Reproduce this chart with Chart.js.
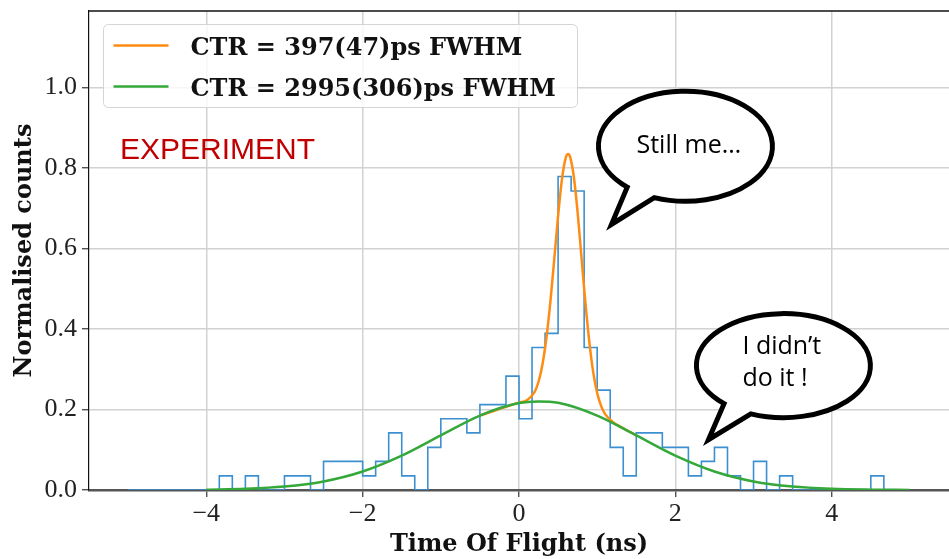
<!DOCTYPE html>
<html>
<head>
<meta charset="utf-8">
<script src="https://cdn.jsdelivr.net/npm/chart.js@4.4.1/dist/chart.umd.min.js"></script>
<style>
html, body { margin: 0; padding: 0; background: #fff; overflow: hidden; }
</style>
</head>
<body>
<canvas id="grafico" width="949" height="559"></canvas>
<script>
// histogram: 60 bins from -5 to 5 ns, normalised counts
const binStart = -5;
const binWidth = 1 / 6;
const histValues = [
  0, 0, 0, 0, 0, 0, 0, 0.035, 0, 0.035,
  0, 0, 0.035, 0.035, 0, 0.071, 0.071, 0.071, 0.035, 0.071,
  0.142, 0.035, 0, 0.106, 0.177, 0.177, 0.142, 0.212, 0.212, 0.283,
  0.177, 0.354, 0.389, 0.779, 0.743, 0.354, 0.248, 0.106, 0.035, 0.142,
  0.142, 0.106, 0.106, 0.035, 0.071, 0.106, 0.035, 0, 0.071, 0,
  0.035, 0, 0, 0, 0, 0, 0, 0.035, 0, 0
];

// broad fit (green)
const broadX = [-4, -3.5, -3, -2.5, -2, -1.5, -1, -0.5, 0, 0.25, 0.5, 1, 1.5, 2, 2.5, 3, 3.5, 4, 4.5, 5];
const broadY = [0.0008, 0.0028, 0.0084, 0.0213, 0.046, 0.0854, 0.1357, 0.185, 0.216, 0.22, 0.2166, 0.185, 0.1357, 0.0854, 0.046, 0.0213, 0.0084, 0.0028, 0.0008, 0.0002];

// narrow peak fit (orange)
const narrowX = [-0.5, 0, 0.1, 0.2, 0.25, 0.3, 0.35, 0.4, 0.45, 0.5, 0.55, 0.6, 0.63, 0.65, 0.7, 0.75, 0.8, 0.85, 0.9, 0.95, 1.0, 1.05, 1.1, 1.2, 1.3, 1.5];
const narrowY = [0.185, 0.217, 0.223, 0.244, 0.269, 0.312, 0.377, 0.465, 0.571, 0.681, 0.773, 0.827, 0.835, 0.830, 0.780, 0.689, 0.576, 0.464, 0.367, 0.292, 0.241, 0.209, 0.189, 0.169, 0.157, 0.136];

const xTicks = [-4, -2, 0, 2, 4];
const yTicks = [0, 0.2, 0.4, 0.6, 0.8, 1.0];
const legendLabels = ['CTR = 397(47)ps FWHM', 'CTR = 2995(306)ps FWHM'];

const orange = '#ff8c12';
const green = '#35a83a';
const blue = '#3d90cf';

let histPts = [];
for (let i = 0; i < histValues.length; i++) {
  histPts.push({ x: binStart + i * binWidth, y: histValues[i] });
}
histPts.push({ x: binStart + histValues.length * binWidth, y: 0 });

const broadPts = broadX.map((x, i) => ({ x: x, y: broadY[i] }));
const narrowPts = narrowX.map((x, i) => ({ x: x, y: narrowY[i] }));

// speech bubbles, anchored in data units
const bubbles = [
  { cx: 2.129, cy: 0.854, tx: 1.183, ty: 0.66, rx: 87, ry: 55, gap: [111, 132],
    lines: ['Still me\u2026'], textDx: -49, textDy: [7] },
  { cx: 3.382, cy: 0.309, tx: 2.423, ty: 0.125, rx: 87, ry: 52, gap: [112, 133],
    lines: ['I didn\u2019t', 'do it !'], textDx: -41, textDy: [-12, 20] }
];

const extras = {
  id: 'extras',
  afterDraw(chart) {
    const ctx = chart.ctx;
    const a = chart.chartArea;
    const xs = chart.scales.x;
    const ys = chart.scales.y;
    ctx.save();

    // top spine
    ctx.strokeStyle = '#111';
    ctx.lineWidth = 1.5;
    ctx.beginPath();
    ctx.moveTo(a.left, a.top);
    ctx.lineTo(a.right, a.top);
    ctx.stroke();

    // legend
    const lx = a.left + 14.5, ly = a.top + 13.5;
    ctx.beginPath();
    ctx.roundRect(lx, ly, 474, 83, 5);
    ctx.fillStyle = 'rgba(255,255,255,0.8)';
    ctx.fill();
    ctx.strokeStyle = '#d4d4d4';
    ctx.lineWidth = 1;
    ctx.stroke();
    const cols = [orange, green];
    ctx.font = 'bold 24px "DejaVu Serif"';
    ctx.textBaseline = 'alphabetic';
    ctx.textAlign = 'left';
    for (let i = 0; i < legendLabels.length; i++) {
      const yy = ly + 21 + i * 41;
      ctx.strokeStyle = cols[i];
      ctx.lineWidth = 2.5;
      ctx.beginPath();
      ctx.moveTo(lx + 10, yy);
      ctx.lineTo(lx + 65, yy);
      ctx.stroke();
      ctx.fillStyle = '#111';
      ctx.fillText(legendLabels[i], lx + 87, yy + 9);
    }

    // EXPERIMENT label
    ctx.font = '30px "Liberation Sans"';
    ctx.fillStyle = '#c00000';
    ctx.fillText('EXPERIMENT', 120, 159);

    // bubbles
    bubbles.forEach(b => {
      const cx = xs.getPixelForValue(b.cx);
      const cy = ys.getPixelForValue(b.cy);
      const tx = xs.getPixelForValue(b.tx);
      const ty = ys.getPixelForValue(b.ty);
      const a1 = b.gap[1] * Math.PI / 180;
      const a2 = (b.gap[0] + 360) * Math.PI / 180;
      ctx.beginPath();
      ctx.ellipse(cx, cy, b.rx, b.ry, 0, a1, a2, false);
      ctx.lineTo(tx, ty);
      ctx.closePath();
      ctx.fillStyle = '#fff';
      ctx.fill();
      ctx.strokeStyle = '#000';
      ctx.lineWidth = 5;
      ctx.lineJoin = 'miter';
      ctx.stroke();
      ctx.fillStyle = '#000';
      ctx.font = '25px "Comic Sans MS", "Open Sans"';
      b.lines.forEach((t, k) => {
        ctx.fillText(t, cx + b.textDx, cy + b.textDy[k]);
      });
    });

    ctx.restore();
  }
};

const tickFont = { family: 'Liberation Serif', size: 26 };
const titleFont = { family: 'DejaVu Serif', size: 24, weight: 'bold' };

const config = {
  type: 'line',
  data: {
    datasets: [
      {
        label: 'hist',
        data: histPts,
        stepped: 'before',
        borderColor: blue,
        borderWidth: 1.6,
        pointRadius: 0,
        fill: false,
        order: 3
      },
      {
        label: legendLabels[0],
        data: narrowPts,
        borderColor: orange,
        borderWidth: 2.5,
        pointRadius: 0,
        cubicInterpolationMode: 'monotone',
        fill: false,
        order: 2
      },
      {
        label: legendLabels[1],
        data: broadPts,
        borderColor: green,
        borderWidth: 2.5,
        pointRadius: 0,
        cubicInterpolationMode: 'monotone',
        fill: false,
        order: 1
      }
    ]
  },
  options: {
    responsive: false,
    animation: false,
    devicePixelRatio: 1,
    layout: { padding: { top: 11, left: 0, right: 0, bottom: 0 } },
    plugins: {
      legend: { display: false },
      tooltip: { enabled: false }
    },
    scales: {
      x: {
        type: 'linear',
        min: -5.5,
        max: 5.5,
        afterBuildTicks: s => { s.ticks = xTicks.map(v => ({ value: v })); },
        afterFit: s => { s.height = 69; s.paddingLeft = 0; s.paddingRight = 0; },
        ticks: {
          callback: v => (v < 0 ? '\u2212' + Math.abs(v) : String(v)),
          font: tickFont,
          color: '#222',
          padding: 2,
          maxRotation: 0,
          autoSkip: false
        },
        grid: { color: '#d2d2d2', lineWidth: 1.5, tickLength: 7, tickColor: '#333', tickWidth: 1.2 },
        border: { display: true, color: '#555', width: 2.5 },
        title: { display: true, text: 'Time Of Flight (ns)', font: titleFont, color: '#111', padding: { top: 0, bottom: 0 } }
      },
      y: {
        type: 'linear',
        min: 0,
        max: 1.19,
        afterBuildTicks: s => { s.ticks = yTicks.map(v => ({ value: v })); },
        afterFit: s => { s.width = 89; s.paddingTop = 0; s.paddingBottom = 0; },
        ticks: {
          callback: v => v.toFixed(1),
          font: tickFont,
          color: '#222',
          padding: 5
        },
        grid: { color: '#d2d2d2', lineWidth: 1.5, tickLength: 7, tickColor: '#333', tickWidth: 1.2 },
        border: { display: true, color: '#111', width: 1.2 },
        title: { display: true, text: 'Normalised counts', font: titleFont, color: '#111', padding: { top: 10, bottom: 0 } }
      }
    }
  },
  plugins: [extras]
};

const myChart = new Chart(document.getElementById('grafico'), config);
</script>
</body>
</html>
